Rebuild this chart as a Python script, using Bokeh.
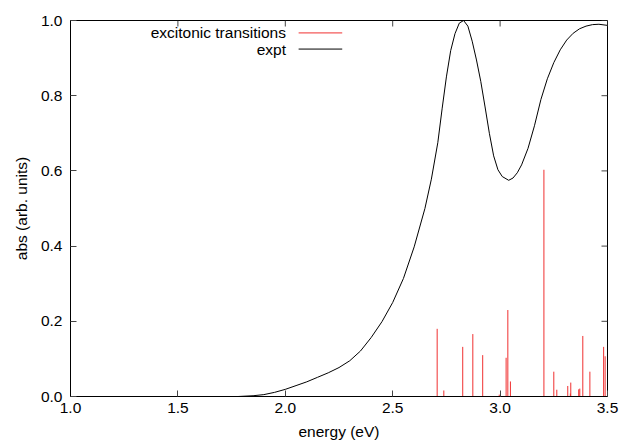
from bokeh.plotting import figure
from bokeh.models import Label, FixedTicker
from bokeh.embed import file_html
from bokeh.resources import INLINE

# measured absorption spectrum (energy in eV, normalised absorbance)
expt_energy = [1.00, 1.50, 1.78, 1.85, 1.90, 1.95, 2.00, 2.05, 2.10, 2.15,
               2.20, 2.25, 2.30, 2.35, 2.40, 2.45, 2.50, 2.55, 2.60, 2.65,
               2.68, 2.71, 2.73, 2.75, 2.77, 2.79, 2.81, 2.83, 2.85, 2.87,
               2.89, 2.91, 2.93, 2.95, 2.97, 2.99, 3.01, 3.04, 3.06, 3.08,
               3.10, 3.13, 3.16, 3.19, 3.22, 3.25, 3.28, 3.31, 3.34, 3.37,
               3.40, 3.43, 3.46, 3.50]
expt_abs = [0.000, 0.000, 0.000, 0.002, 0.005, 0.011, 0.019, 0.029, 0.039, 0.051,
            0.063, 0.077, 0.095, 0.121, 0.157, 0.199, 0.250, 0.314, 0.398, 0.500,
            0.578, 0.675, 0.765, 0.850, 0.920, 0.965, 0.993, 1.000, 0.985, 0.945,
            0.895, 0.838, 0.770, 0.700, 0.640, 0.603, 0.585, 0.575, 0.581, 0.595,
            0.616, 0.660, 0.720, 0.790, 0.845, 0.888, 0.922, 0.948, 0.966, 0.978,
            0.985, 0.989, 0.990, 0.987]

# computed excitonic transitions (energy in eV, oscillator strength)
trans_energy = [2.707, 2.738, 2.826, 2.873, 2.919, 2.996, 3.028, 3.036, 3.048,
                3.204, 3.250, 3.264, 3.315, 3.327, 3.329, 3.366, 3.371, 3.385,
                3.418, 3.482, 3.489]
trans_strength = [0.180, 0.016, 0.132, 0.166, 0.110, 0.005, 0.103, 0.230, 0.040,
                  0.603, 0.066, 0.018, 0.028, 0.008, 0.037, 0.019, 0.021, 0.161,
                  0.066, 0.132, 0.107]

x_ticks = [1.0, 1.5, 2.0, 2.5, 3.0, 3.5]
y_ticks = [0.0, 0.2, 0.4, 0.6, 0.8, 1.0]

X0, X1 = 1.0, 3.5
Y0, Y1 = 0.0, 1.0
FRAME_W, FRAME_H = 537, 376
TICK_PX = 6

FONT = "Liberation Sans"
FS = "15.5px"
RED = "#f03030"
TICK_COLOR = "#444444"

p = figure(width=619, height=447, x_range=(X0, X1), y_range=(Y0, Y1),
           output_backend="svg", toolbar_location=None,
           min_border_left=70, min_border_right=12,
           min_border_top=20, min_border_bottom=51)
p.xgrid.visible = False
p.ygrid.visible = False
p.outline_line_color = "black"
p.outline_line_width = 1
p.background_fill_color = "white"
p.border_fill_color = "white"

# transitions as sticks
p.segment(x0=trans_energy, y0=[0] * len(trans_energy),
          x1=trans_energy, y1=trans_strength,
          line_color=RED, line_width=1)

# experimental curve
p.line(expt_energy, expt_abs, line_color="black", line_width=1)

for ax in (p.xaxis[0], p.yaxis[0]):
    ax.major_tick_in = TICK_PX
    ax.major_tick_out = 0
    ax.minor_tick_in = 0
    ax.minor_tick_out = 0
    ax.major_tick_line_color = TICK_COLOR
    ax.axis_line_color = "black"
    ax.major_label_text_font = FONT
    ax.major_label_text_font_size = FS
    ax.major_label_text_color = "black"
    ax.axis_label_text_font = FONT
    ax.axis_label_text_font_size = FS
    ax.axis_label_text_font_style = "normal"
    ax.axis_label_text_color = "black"

p.xaxis[0].ticker = FixedTicker(ticks=x_ticks)
p.yaxis[0].ticker = FixedTicker(ticks=y_ticks)
p.xaxis[0].major_label_overrides = {t: f"{t:.1f}" for t in x_ticks}
p.yaxis[0].major_label_overrides = {t: f"{t:.1f}" for t in y_ticks}
p.xaxis[0].axis_label = "energy (eV)"
p.yaxis[0].axis_label = "abs (arb. units)"
p.xaxis[0].major_label_standoff = 6
p.xaxis[0].axis_label_standoff = 7
p.yaxis[0].major_label_standoff = 8
p.yaxis[0].axis_label_standoff = 8

# mirrored inward ticks on the top and right edges
dy = TICK_PX * (Y1 - Y0) / FRAME_H
dx = TICK_PX * (X1 - X0) / FRAME_W
p.segment(x0=x_ticks, y0=[Y1] * len(x_ticks),
          x1=x_ticks, y1=[Y1 - dy] * len(x_ticks),
          line_color=TICK_COLOR, line_width=1)
p.segment(x0=[X1] * len(y_ticks), y0=y_ticks,
          x1=[X1 - dx] * len(y_ticks), y1=y_ticks,
          line_color=TICK_COLOR, line_width=1)

# key, text right-aligned with the sample line after it
key_text_x = 2.003
key_line = (2.062, 2.265)
key_rows = [("excitonic transitions", RED, 0.967), ("expt", "black", 0.924)]
for text, color, yy in key_rows:
    p.add_layout(Label(x=key_text_x, y=yy, text=text, text_align="right",
                       text_baseline="middle", text_font=FONT,
                       text_font_size=FS, text_color="black"))
    p.segment(x0=[key_line[0]], y0=[yy], x1=[key_line[1]], y1=[yy],
              line_color=color, line_width=1)

open("out.html", "w").write(file_html(p, INLINE))
